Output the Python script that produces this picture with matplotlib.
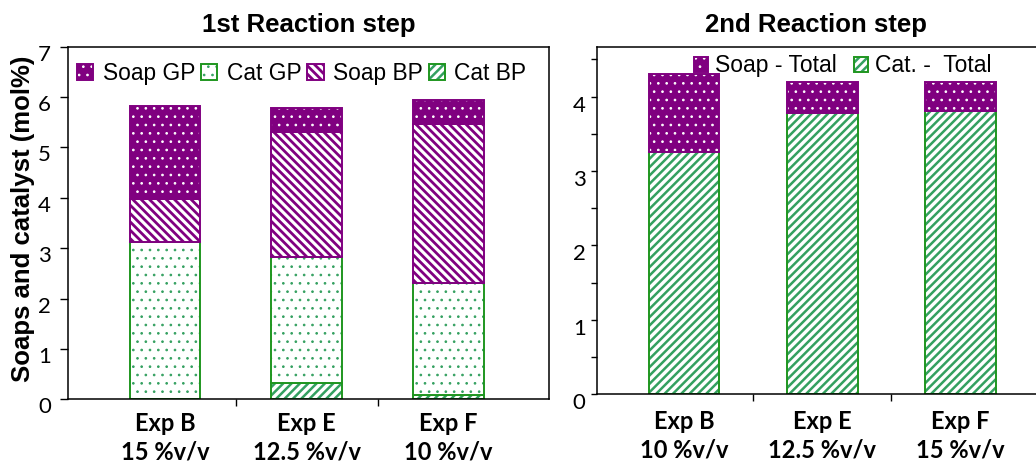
import matplotlib
matplotlib.use("Agg")
import matplotlib.pyplot as plt
import matplotlib.transforms as mtransforms
from matplotlib.patches import Rectangle
import numpy as np

# 1st reaction step (stacked, mol%)
labels_1 = ["Exp B\n15 %v/v", "Exp E\n12.5 %v/v", "Exp F\n10 %v/v"]
cat_bp = [0.0, 0.32, 0.08]
cat_gp = [3.13, 2.51, 2.22]
soap_bp = [0.85, 2.48, 3.16]
soap_gp = [1.84, 0.48, 0.49]

# 2nd reaction step
labels_2 = ["Exp B\n10 %v/v", "Exp E\n12.5 %v/v", "Exp F\n15 %v/v"]
cat_total = [3.26, 3.78, 3.81]
soap_total = [1.05, 0.42, 0.39]

PURPLE = "#800080"
GREEN_EDGE = "#1f961f"
GREEN_HATCH = "#34a060"
SANS = "Liberation Sans"

# hatch line width per pattern (dots thin, stripes thick)
HATCH_LW = {"..": 0.7, "////": 1.8, "\\\\\\\\": 2.0}

plt.rcParams["font.family"] = ["Lato", "DejaVu Sans"]


def set_hatch_lw(patch, lw):
    # newer matplotlib keeps the width on the patch, older reads rcParams at draw
    if hasattr(patch, "set_hatch_linewidth"):
        patch.set_hatch_linewidth(lw)
    orig = patch.draw

    def draw(renderer):
        with plt.rc_context({"hatch.linewidth": lw}):
            orig(renderer)
    patch.draw = draw


def hatched_bar(ax, x, h, bottom, face, hcolor, hatch, edge, width=0.5):
    # fill + hatch first, then a separate outline so hatch and edge can differ
    with plt.rc_context({"hatch.linewidth": HATCH_LW[hatch]}):
        fill = ax.bar(x, h, width, bottom=bottom, color=face, edgecolor=hcolor,
                      hatch=hatch, linewidth=0)
    for p in fill:
        set_hatch_lw(p, HATCH_LW[hatch])
    outline = ax.bar(x, h, width, bottom=bottom, facecolor="none",
                     edgecolor=edge, linewidth=1.4)
    return (fill[0], outline[0])


def fix_legend_hatch(leg):
    for p in leg.findobj(Rectangle):
        hatch = p.get_hatch()
        if hatch in HATCH_LW:
            set_hatch_lw(p, HATCH_LW[hatch])


def style_axes(ax, labels, x, pad):
    for s in ax.spines.values():
        s.set_linewidth(1.1)
        s.set_color("black")
    ax.set_xticks([0.5, 1.5])
    ax.set_xticklabels([])
    ax.set_xticks(x, labels, minor=True, fontsize=17, fontweight="bold",
                  linespacing=1.3)
    ax.tick_params(axis="x", which="major", direction="out", length=5, width=1)
    ax.tick_params(axis="x", which="minor", length=0, pad=pad)


fig = plt.figure(figsize=(10.36, 4.65), dpi=100)

# ---- left panel ----
ax1 = fig.add_axes([0.0653, 0.1413, 0.4646, 0.7583])
x1 = np.arange(len(labels_1))
b0 = np.zeros(len(x1))
h_cbp = hatched_bar(ax1, x1, cat_bp, b0, "white", GREEN_HATCH, "////", GREEN_EDGE)
b1 = b0 + np.array(cat_bp)
h_cgp = hatched_bar(ax1, x1, cat_gp, b1, "white", GREEN_HATCH, "..", GREEN_EDGE)
b2 = b1 + np.array(cat_gp)
h_sbp = hatched_bar(ax1, x1, soap_bp, b2, "white", PURPLE, "\\\\\\\\", PURPLE)
b3 = b2 + np.array(soap_bp)
h_sgp = hatched_bar(ax1, x1, soap_gp, b3, PURPLE, "white", "..", PURPLE)

ax1.set_xlim(-0.687, 2.71)
ax1.set_ylim(0, 7)
ax1.set_yticks(range(0, 8))
ax1.tick_params(axis="y", direction="out", length=6, width=1, labelsize=16, pad=6)
style_axes(ax1, labels_1, x1, pad=9)
ax1.set_title("1st Reaction step", fontsize=18.5, fontweight="bold",
              family=SANS, pad=10.5)
ax1.set_ylabel("Soaps and catalyst (mol%)", fontsize=18.5, fontweight="bold",
               family=SANS)
ax1.yaxis.set_label_coords(-0.068, 0.512)

leg1 = ax1.legend([h_sgp, h_cgp, h_sbp, h_cbp], ["Soap GP", "Cat GP", "Soap BP", "Cat BP"],
                  loc="center left", bbox_to_anchor=(0.019, 0.925), ncol=4,
                  frameon=False, prop=dict(family=SANS, size=16.4),
                  handlelength=0.73, handleheight=0.69, handletextpad=0.4,
                  columnspacing=0.26, borderaxespad=0, borderpad=0)
fix_legend_hatch(leg1)

# ---- right panel ----
ax2 = fig.add_axes([0.576, 0.152, 0.4315, 0.7475])
x2 = np.arange(len(labels_2))
z = np.zeros(len(x2))
h_ct = hatched_bar(ax2, x2, cat_total, z, "white", GREEN_HATCH, "////", GREEN_EDGE,
                   width=0.51)
h_st = hatched_bar(ax2, x2, soap_total, z + np.array(cat_total), PURPLE, "white", "..",
                   PURPLE, width=0.51)

ax2.set_xlim(-0.629, 2.6)
ax2.set_ylim(0, 4.67)
ax2.set_yticks(range(0, 5))
ax2.set_yticks(np.arange(0.5, 4.6, 1.0), minor=True)
ax2.tick_params(axis="y", which="both", direction="out", length=4, width=1,
                labelsize=16, pad=4)
style_axes(ax2, labels_2, x2, pad=11)
ax2.set_title("2nd Reaction step", fontsize=18.5, fontweight="bold",
              family=SANS, pad=10.5)
leg2 = ax2.legend([h_st, h_ct], ["Soap - Total", "Cat. -  Total"],
                  loc="center left", bbox_to_anchor=(0.218, 0.945), ncol=2,
                  frameon=False, prop=dict(family=SANS, size=16.5),
                  handlelength=0.61, handleheight=0.65, handletextpad=0.3,
                  columnspacing=0.77, borderaxespad=0, borderpad=0)
fix_legend_hatch(leg2)
# title centred on the visible part of the panel
ax2.title.set_position((0.49, 1.0))

# tick labels in the original sit a bit below their ticks
for ax, dy in ((ax1, 6), (ax2, 7)):
    off = mtransforms.ScaledTranslation(0, -dy / 100, fig.dpi_scale_trans)
    for t in ax.get_yticklabels():
        t.set_transform(t.get_transform() + off)

fig.savefig("out.png", dpi=100)
